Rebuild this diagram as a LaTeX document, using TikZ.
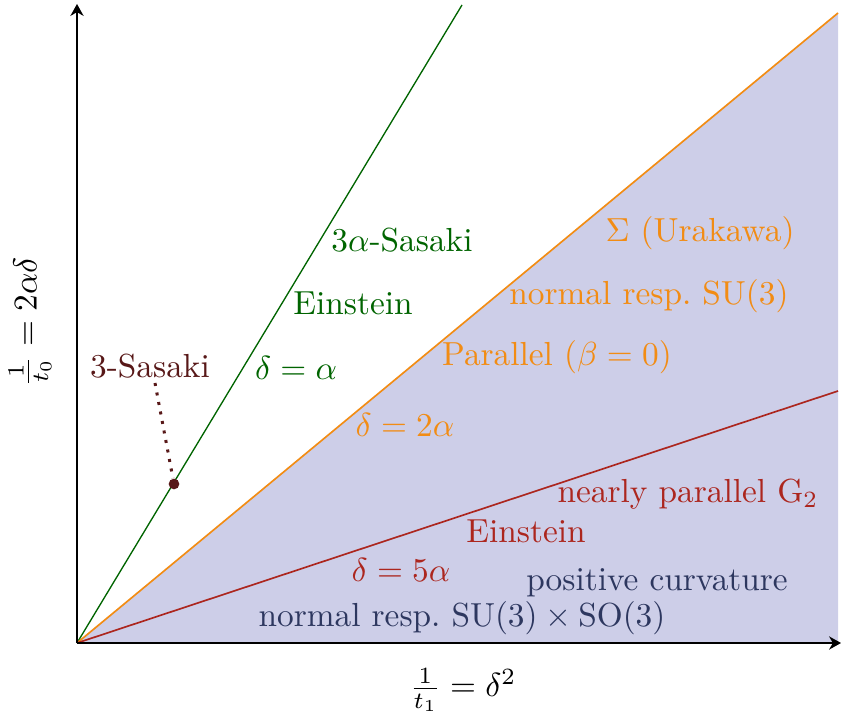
\documentclass[tikz,border=0pt]{standalone}
\usetikzlibrary{arrows.meta}
\definecolor{regfill}{RGB}{205,206,232}
\definecolor{cgreen}{RGB}{0,100,0}
\definecolor{corange}{RGB}{242,140,20}
\definecolor{cred}{RGB}{172,38,30}
\definecolor{cnavy}{RGB}{45,55,95}
\definecolor{cmaroon}{RGB}{88,24,24}
\begin{document}
\begin{tikzpicture}[x=0.3pt,y=-0.3pt,
  axis/.style={line width=0.4pt,-{Stealth[length=3.6pt,width=4pt]}},
  lbl/.style={inner sep=0pt,font=\normalsize},
  gr/.style={lbl,text=cgreen},
  orl/.style={lbl,text=corange},
  rd/.style={lbl,text=cred},
  nv/.style={lbl,text=cnavy}]
\useasboundingbox (0,0) rectangle (841,714);
\coordinate (O) at (77,643);
\coordinate (G) at (462,5);
\coordinate (Or) at (838,13);
\coordinate (R) at (838,391);
\coordinate (B) at (838,643);
\coordinate (X) at (841,643);
\coordinate (Y) at (77,4);
\fill[regfill] (O) -- (Or) -- (B) -- cycle;
\draw[cgreen,line width=0.4pt] (O) -- (G);
\draw[corange,line width=0.5pt] (O) -- (Or);
\draw[cred,line width=0.5pt] (O) -- (R);
\draw[axis] (O) -- (X);
\draw[axis] (O) -- (Y);
% labels
\node[gr] (l1) at (402,240) {3$\alpha$-Sasaki};
\node[gr] (l2) at (353,303) {Einstein};
\node[gr] (l3) at (296,368) {$\delta=\alpha$};
\node[orl] (l4) at (700,233) {$\Sigma$ (Urakawa)};
\node[orl] (l5) at (649,296) {normal resp.\ SU(3)};
\node[orl] (l6) at (557,357) {Parallel ($\beta=0$)};
\node[orl] (l7) at (405,425) {$\delta=2\alpha$};
\node[rd] (l8) at (688,494) {nearly parallel G$_2$};
\node[rd] (l9) at (526,531) {Einstein};
\node[rd] (l10) at (401,570) {$\delta=5\alpha$};
\node[nv] (l11) at (657,583) {positive curvature};
\node[nv] (l12) at (462,618) {normal resp.\ $\mathrm{SU}(3)\times\mathrm{SO}(3)$};
\node[lbl,text=cmaroon] (s) at (150,366) {3-Sasaki};
\node[circle,fill=cmaroon,inner sep=0pt,minimum size=3.2pt] (dot) at (174,484) {};
\draw[cmaroon,dotted,line width=0.9pt] (155,383) -- (dot);
\node[lbl,rotate=90] (ylab) at (30,322) {$\frac{1}{t_0}=2\alpha\delta$};
\node[lbl] (xlab) at (463,690) {$\frac{1}{t_1}=\delta^2$};
\end{tikzpicture}
\end{document}
